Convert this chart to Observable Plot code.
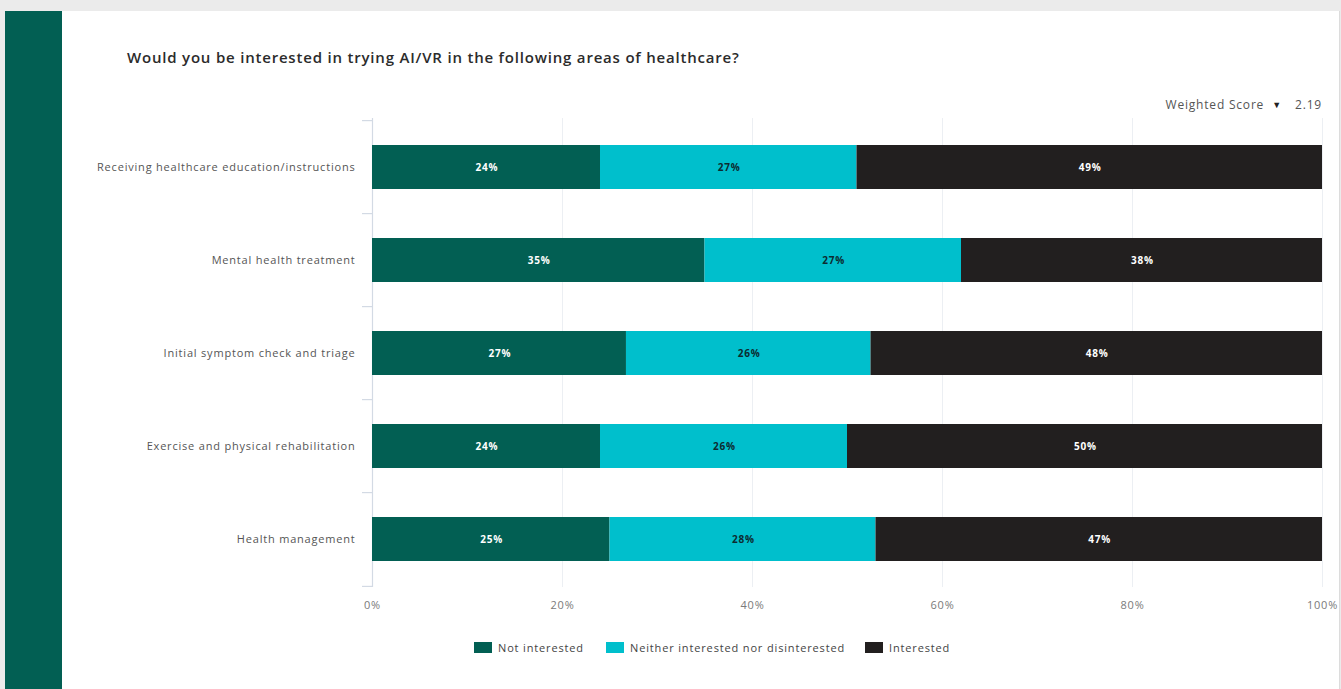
<!DOCTYPE html>
<html>
<head>
<meta charset="utf-8">
<script src="https://cdn.jsdelivr.net/npm/d3@7"></script>
<script src="https://cdn.jsdelivr.net/npm/@observablehq/plot@0.6"></script>
<style>
  html, body { margin: 0; padding: 0; }
  body { width: 1341px; height: 689px; overflow: hidden; background: #ebebeb; position: relative; font-family: "Open Sans", sans-serif; }
  #panel { position: absolute; left: 62px; top: 11px; width: 1277px; height: 678px; background: #fff; border-right: 1px solid #dcdcdc; }
  #sidebar { position: absolute; left: 5px; top: 11px; width: 57px; height: 678px; background: #025f53; }
  #title { position: absolute; left: 127px; top: 47px; font-size: 15px; letter-spacing: 0.8px; font-weight: 600; color: #2b2b2b; white-space: nowrap; }
  #score { position: absolute; right: 19px; top: 96px; font-size: 12px; letter-spacing: 0.8px; color: #555; white-space: nowrap; }
  #score .tri { display: inline-block; margin: 0 14px 0 8px; font-size: 9px; vertical-align: 1px; color: #222; letter-spacing: 0; }
  #chart { position: absolute; left: 0; top: 0; }
  .leg { position: absolute; top: 640px; font-size: 11px; letter-spacing: 0.85px; color: #444; white-space: nowrap; display: flex; align-items: center; }
  .leg span.sw { display: inline-block; width: 18px; height: 11px; margin-right: 6px; }
</style>
</head>
<body>
<div id="sidebar"></div>
<div id="panel"></div>
<div id="title">Would you be interested in trying AI/VR in the following areas of healthcare?</div>
<div id="score">Weighted Score<span class="tri">▼</span>2.19</div>
<div id="chart"></div>
<div id="legend"></div>
<script>
const categories = [
  "Receiving healthcare education/instructions",
  "Mental health treatment",
  "Initial symptom check and triage",
  "Exercise and physical rehabilitation",
  "Health management"
];
const seriesNames = ["Not interested", "Neither interested nor disinterested", "Interested"];
const seriesColors = ["#025f53", "#00bfcc", "#221f1f"];
const labelColors = ["#ffffff", "#0d2b30", "#ffffff"];
const notInterested = [24, 35, 27, 24, 25];
const neither = [27, 27, 26, 26, 28];
const interested = [49, 38, 48, 50, 47];
const xTicks = [0, 0.2, 0.4, 0.6, 0.8, 1];

const seriesValues = [notInterested, neither, interested];
const data = [];
categories.forEach((c, i) => {
  seriesNames.forEach((s, j) => {
    data.push({category: c, series: s, value: seriesValues[j][i]});
  });
});

const W = 1341, H = 689, mL = 372, mR = 19, mT = 118, mB = 102;
const step = (H - mT - mB) / categories.length;

const stackOpts = {x: "value", y: "category", fill: "series", offset: "normalize", order: seriesNames};

const chart = Plot.plot({
  width: W,
  height: H,
  marginLeft: mL,
  marginRight: mR,
  marginTop: mT,
  marginBottom: mB,
  style: {background: "transparent", fontFamily: "Open Sans, sans-serif", fontSize: "11px", letterSpacing: "0.8px"},
  x: {domain: [0, 1], ticks: xTicks, tickFormat: d => Math.round(d * 100) + "%", tickSize: 0, tickPadding: 14, label: null},
  y: {domain: categories, paddingInner: 0.53, paddingOuter: 0.265, tickSize: 0, tickPadding: 17, label: null},
  color: {domain: seriesNames, range: seriesColors},
  marks: [
    Plot.ruleX(xTicks.slice(1), {stroke: "#eceff3", strokeWidth: 1}),
    Plot.ruleX([0], {stroke: "#d3dae4", strokeWidth: 1.2}),
    Plot.ruleY(categories, {y: d => d, x1: 0, x2: 0, insetLeft: -10, dy: -step / 2, stroke: "#d3dae4", strokeWidth: 1.2}),
    Plot.ruleY(categories.slice(-1), {y: d => d, x1: 0, x2: 0, insetLeft: -10, dy: step / 2, stroke: "#d3dae4", strokeWidth: 1.2}),
    Plot.barX(data, Plot.stackX(stackOpts)),
    Plot.text(data, Plot.stackX({
      ...stackOpts,
      text: d => d.value + "%",
      fill: d => labelColors[seriesNames.indexOf(d.series)],
      fontWeight: "bold",
      fontSize: 10,
      dx: 0.4
    })),
    Plot.axisX({ticks: xTicks, tickFormat: d => Math.round(d * 100) + "%", tickSize: 0, tickPadding: 14, fill: "#7a7a7a", label: null}),
    Plot.axisY({tickSize: 0, tickPadding: 17, fill: "#555", label: null})
  ]
});
document.getElementById("chart").appendChild(chart);

const legendLefts = [474, 606, 865];
const legend = document.getElementById("legend");
seriesNames.forEach((s, j) => {
  const item = document.createElement("div");
  item.className = "leg";
  item.style.left = legendLefts[j] + "px";
  const sw = document.createElement("span");
  sw.className = "sw";
  sw.style.background = seriesColors[j];
  item.appendChild(sw);
  item.appendChild(document.createTextNode(s));
  legend.appendChild(item);
});
</script>
</body>
</html>
